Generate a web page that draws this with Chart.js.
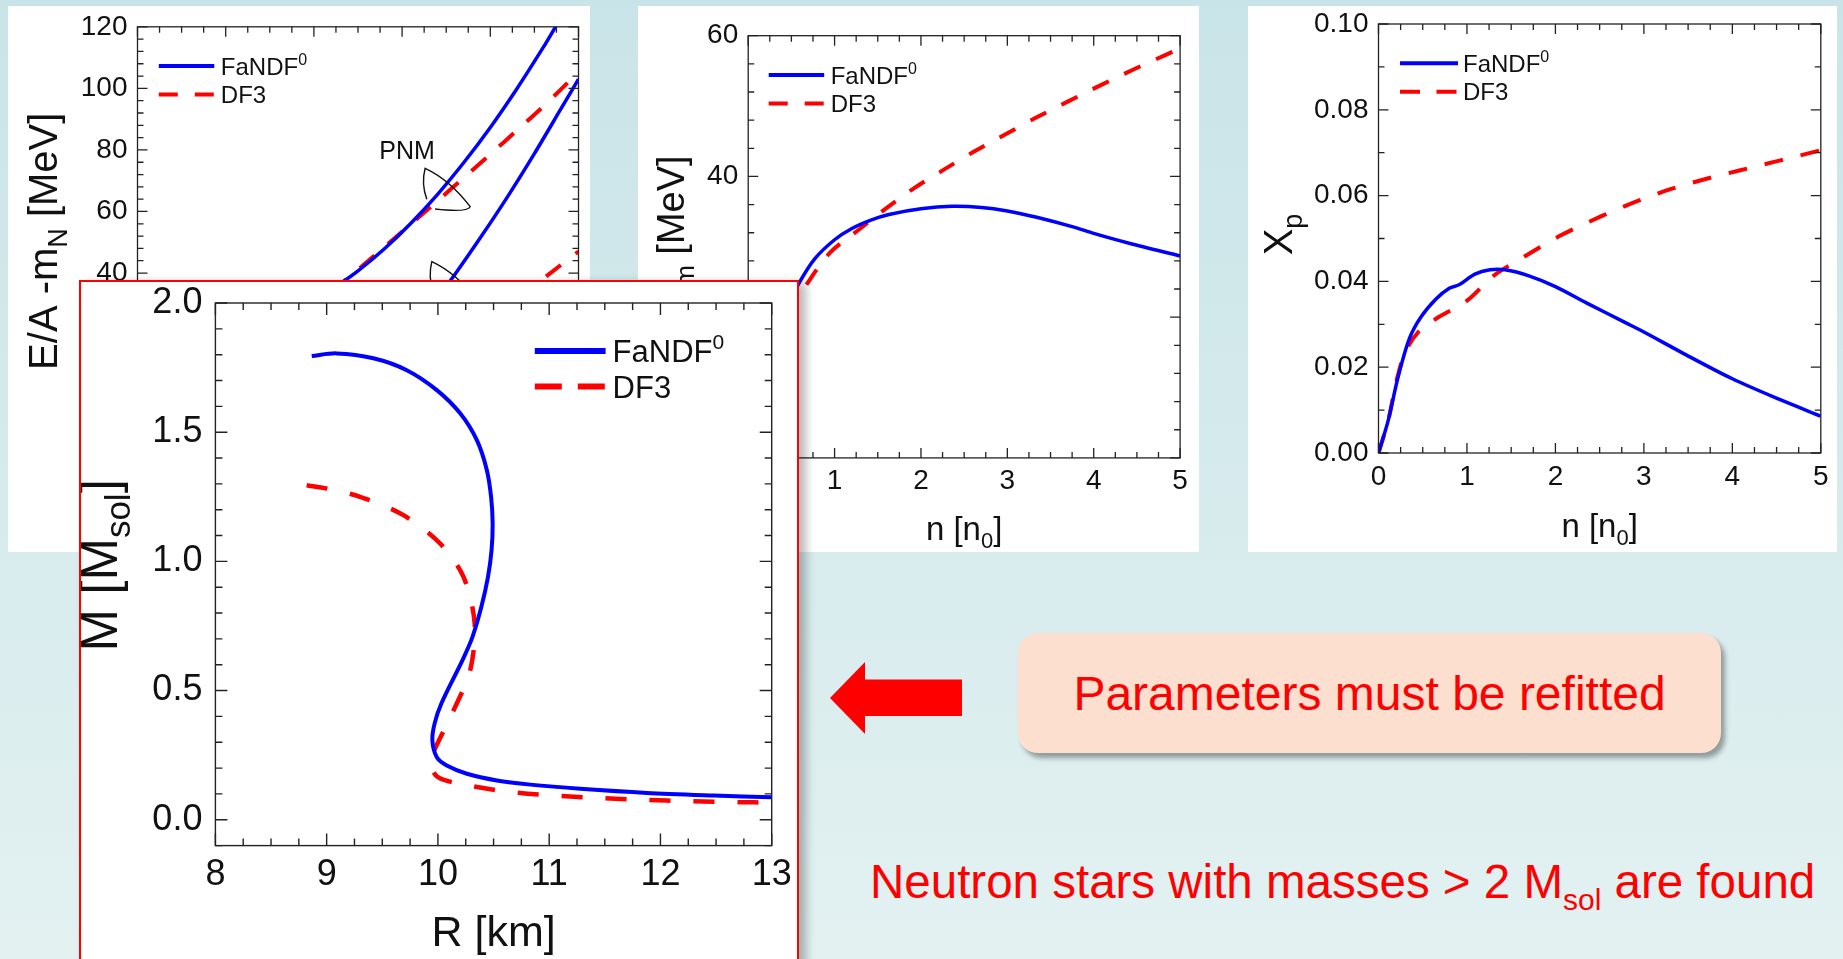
<!DOCTYPE html>
<html lang="en">
<head>
<meta charset="utf-8">
<title>FaNDF0 vs DF3</title>
<script src="https://cdn.jsdelivr.net/npm/chart.js@4.4.1/dist/chart.umd.min.js"></script>
<style>
html, body { margin: 0; padding: 0; }
body {
  width: 1843px; height: 959px; overflow: hidden; position: relative;
  background: linear-gradient(to bottom, #c9e4e8 0%, #e3f1f1 100%);
  font-family: "Liberation Sans", Arial, sans-serif;
}
.panel { position: absolute; background: #fff; }
.panel canvas { position: absolute; left: 0; top: 0; }
#p1 { left: 8px; top: 6px; width: 582px; height: 546px; }
#p2 { left: 638px; top: 6px; width: 561px; height: 546px; }
#p3 { left: 1248px; top: 6px; width: 589px; height: 546px; }
#p4 {
  left: 79px; top: 280px; width: 720px; height: 700px;
  border: 2px solid #ff0000; box-sizing: border-box;
  box-shadow: 7px 3px 9px rgba(0, 0, 0, 0.28);
}
#arrow {
  position: absolute; left: 830px; top: 662px; width: 132px; height: 72px;
  background: #ff0000;
  clip-path: polygon(0 36px, 35px 0, 35px 17.5px, 132px 17.5px, 132px 54px, 35px 54px, 35px 72px);
}
#refit {
  position: absolute; left: 1018px; top: 633px; width: 703px; height: 120px;
  background: #fddfcf; border-radius: 20px;
  box-shadow: 4px 5px 5px rgba(0, 0, 0, 0.35);
  color: #ff0000; font-size: 48px;
  display: flex; align-items: center; justify-content: center;
}
#found {
  position: absolute; left: 870px; top: 854px;
  color: #ff0000; font-size: 47.5px; line-height: 55px; white-space: nowrap;
}
#found .sub { font-size: 30px; position: relative; top: 12px; }
</style>
</head>
<body>

<div class="panel" id="p1"><canvas id="eaChart" width="582" height="546"></canvas></div>
<div class="panel" id="p2"><canvas id="esymChart" width="561" height="546"></canvas></div>
<div class="panel" id="p3"><canvas id="xpChart" width="589" height="546"></canvas></div>
<div class="panel" id="p4"><canvas id="mrChart" width="716" height="677"></canvas></div>

<div id="arrow"></div>
<div id="refit">Parameters must be refitted</div>
<div id="found">Neutron stars with masses &gt; 2 M<span class="sub">sol</span> are found</div>

<script>
// E/A - m_N [MeV] vs n [n0], pure neutron matter (upper pair) and symmetric matter
const eaPnmFaN_n = [2.2, 2.5, 2.8, 3.1, 3.4, 3.7, 4.0, 4.3, 4.6, 4.74];
const eaPnmFaN_E = [34.5, 40.7, 47.9, 56.2, 65.5, 75.9, 87.3, 99.8, 113.3, 120];
const eaPnmDF3_n = [2.2, 2.5, 2.8, 3.1, 3.4, 3.7, 4.0, 4.3, 4.6, 5.0];
const eaPnmDF3_E = [34, 41.1, 48.5, 55.9, 63.4, 71.0, 78.6, 86.3, 94.1, 105.3];
const eaSnmFaN_n = [3.3, 3.6, 3.9, 4.2, 4.5, 4.8, 5.0];
const eaSnmFaN_E = [28, 39.6, 52.0, 65.0, 78.8, 93.3, 103];
const eaSnmDF3_n = [4.3, 4.7, 5.0];
const eaSnmDF3_E = [31.5, 40.4, 47];

// symmetry energy [MeV] vs n [n0]
const esymFaN_n = [0.45, 0.6, 0.77, 1.0, 1.2, 1.42, 1.63, 2.0, 2.36, 2.7, 3.0, 3.34, 3.77, 4.0, 4.41, 5.0];
const esymFaN_E = [21.5, 25.1, 28.3, 31.0, 32.6, 33.8, 34.6, 35.4, 35.75, 35.6, 35.1, 34.2, 32.8, 31.9, 30.5, 28.7];
const esymDF3_n = [0.45, 0.65, 0.95, 1.31, 1.6, 1.93, 2.27, 2.61, 2.98, 3.34, 3.71, 4.07, 4.46, 4.84, 5.0];
const esymDF3_E = [20.5, 24.2, 29.2, 32.7, 35.5, 38.4, 41.0, 43.5, 46.0, 48.4, 50.7, 52.9, 55.2, 57.3, 58.2];

// proton fraction vs n [n0]
const xpFaN_n = [0, 0.11, 0.22, 0.35, 0.48, 0.65, 0.80, 0.91, 1.09, 1.26, 1.43, 1.70, 2.0, 2.35, 2.78, 3.0, 3.43, 4.0, 4.52, 5.0];
const xpFaN = [0, 0.0076, 0.0176, 0.0267, 0.0317, 0.0359, 0.0384, 0.0392, 0.0417, 0.0427, 0.0427, 0.0413, 0.0388, 0.0350, 0.0305, 0.0282, 0.0234, 0.0173, 0.0126, 0.0086];
const xpDF3_n = [0, 0.11, 0.2, 0.3, 0.45, 0.65, 1.0, 1.30, 1.65, 2.04, 2.52, 2.91, 3.30, 3.74, 4.09, 4.52, 4.87, 5.0];
const xpDF3 = [0, 0.0076, 0.0165, 0.0234, 0.0282, 0.0313, 0.0355, 0.0413, 0.0458, 0.0505, 0.0552, 0.0586, 0.0615, 0.0641, 0.0659, 0.0681, 0.0699, 0.0706];

// mass-radius relation, from the heaviest star down to the light end
const mrFaN_R = [8.866, 9.09, 9.42, 9.72, 9.99, 10.20, 10.35, 10.44, 10.478, 10.492, 10.482, 10.45, 10.39, 10.31, 10.22, 10.03, 9.97, 9.95, 9.99, 10.08, 10.26, 10.53, 10.83, 11.28, 11.88, 12.48, 13.0];
const mrFaN_M = [1.795, 1.805, 1.786, 1.740, 1.663, 1.573, 1.469, 1.353, 1.249, 1.146, 1.043, 0.940, 0.823, 0.707, 0.617, 0.449, 0.372, 0.307, 0.242, 0.210, 0.178, 0.152, 0.136, 0.120, 0.104, 0.094, 0.087];
const mrDF3_R = [8.82, 9.0, 9.3, 9.69, 10.02, 10.23, 10.33, 10.29, 10.14, 9.96, 9.93, 10.0, 10.2, 10.6, 11.02, 11.43, 11.85, 12.27, 12.69, 13.0];
const mrDF3_M = [1.295, 1.282, 1.250, 1.179, 1.069, 0.940, 0.760, 0.578, 0.423, 0.262, 0.215, 0.165, 0.139, 0.110, 0.094, 0.085, 0.077, 0.072, 0.068, 0.067];

const keyLabels = [[['FaNDF', ''], ['0', 'sup']], [['DF3', '']]];

const FONT = '"Liberation Sans", Arial, sans-serif';
const INK = '#111';
const BLUE = '#0000ff';
const RED = '#ff0000';

const pts = (xs, ys) => xs.map((v, i) => ({ x: v, y: ys[i] }));

function onStep(v, step) {
    const q = v / step;
    return Math.abs(q - Math.round(q)) < 1e-6;
}

function blueLine(label, data, width) {
    return { label, data, showLine: true, borderColor: BLUE, backgroundColor: BLUE,
             borderWidth: width, pointRadius: 0, tension: 0.3 };
}

function redLine(label, data, width, dash) {
    return { label, data, showLine: true, borderColor: RED, backgroundColor: RED,
             borderWidth: width, borderDash: dash, pointRadius: 0, tension: 0.3 };
}

// text with sub/superscript pieces, alphabetic baseline at y
function drawPieces(ctx, pieces, size, x, y, align) {
    const fontFor = k => (k ? Math.round(size * 0.68) : size) + 'px ' + FONT;
    let total = 0;
    const widths = pieces.map(([t, k]) => {
        ctx.font = fontFor(k);
        const w = ctx.measureText(t).width;
        total += w;
        return w;
    });
    let cx = align === 'center' ? x - total / 2 : x;
    ctx.textAlign = 'left';
    ctx.textBaseline = 'alphabetic';
    pieces.forEach(([t, k], i) => {
        ctx.font = fontFor(k);
        const dy = k === 'sub' ? size * 0.25 : k === 'sup' ? -size * 0.42 : 0;
        ctx.fillText(t, cx, y + dy);
        cx += widths[i];
    });
}

// box round the plot with inward ticks on all four sides
const frameTicks = {
    id: 'frameTicks',
    afterDatasetsDraw(chart, args, o) {
        const { ctx, chartArea: a } = chart;
        const { x, y } = chart.scales;
        ctx.save();
        ctx.strokeStyle = '#222';
        ctx.lineWidth = o.lineWidth;
        ctx.beginPath();
        x.ticks.forEach(t => {
            const p = x.getPixelForValue(t.value);
            const len = onStep(t.value, o.xMajor) ? o.major : o.minor;
            ctx.moveTo(p, a.bottom); ctx.lineTo(p, a.bottom - len);
            ctx.moveTo(p, a.top); ctx.lineTo(p, a.top + len);
        });
        y.ticks.forEach(t => {
            const p = y.getPixelForValue(t.value);
            const len = onStep(t.value, o.yMajor) ? o.major : o.minor;
            ctx.moveTo(a.left, p); ctx.lineTo(a.left + len, p);
            ctx.moveTo(a.right, p); ctx.lineTo(a.right - len, p);
        });
        ctx.stroke();
        ctx.strokeRect(a.left, a.top, a.right - a.left, a.bottom - a.top);
        ctx.restore();
    }
};

const axisTitles = {
    id: 'axisTitles',
    afterDraw(chart, args, o) {
        const { ctx, chartArea: a } = chart;
        ctx.save();
        ctx.fillStyle = INK;
        if (o.x) {
            drawPieces(ctx, o.x.text, o.x.size, (a.left + a.right) / 2, a.bottom + o.x.offset, 'center');
        }
        if (o.y) {
            ctx.save();
            ctx.translate(a.left + o.y.offset, (a.top + a.bottom) / 2 + (o.y.shift || 0));
            ctx.rotate(-Math.PI / 2);
            drawPieces(ctx, o.y.text, o.y.size, 0, 0, 'center');
            ctx.restore();
        }
        ctx.restore();
    }
};

const lineKey = {
    id: 'lineKey',
    afterDraw(chart, args, o) {
        const { ctx, chartArea: a } = chart;
        keyLabels.forEach((label, i) => {
            const ds = chart.data.datasets[i];
            const y = a.top + o.top + i * o.row;
            const x0 = a.left + o.left;
            ctx.save();
            ctx.strokeStyle = ds.borderColor;
            ctx.lineWidth = o.width;
            ctx.setLineDash(ds.borderDash ? o.dash : []);
            ctx.beginPath();
            ctx.moveTo(x0, y);
            ctx.lineTo(x0 + o.length, y);
            ctx.stroke();
            ctx.setLineDash([]);
            ctx.fillStyle = INK;
            drawPieces(ctx, label, o.size, x0 + o.length + o.gap, y + o.size * 0.36, 'left');
            ctx.restore();
        });
    }
};

// "PNM" callout with its two loop pointers
const pnmNote = {
    id: 'pnmNote',
    afterDatasetsDraw(chart, args, o) {
        const { ctx } = chart;
        const { x, y } = chart.scales;
        ctx.save();
        ctx.fillStyle = INK;
        ctx.font = o.size + 'px ' + FONT;
        ctx.textAlign = 'center';
        ctx.textBaseline = 'middle';
        ctx.fillText(o.text, x.getPixelForValue(o.at[0]), y.getPixelForValue(o.at[1]));
        ctx.strokeStyle = INK;
        ctx.lineWidth = 1.4;
        o.loops.forEach(loop => {
            const [A, B, C, D] = loop.map(([n, e]) => [x.getPixelForValue(n), y.getPixelForValue(e)]);
            ctx.beginPath();
            ctx.moveTo(A[0], A[1]);
            ctx.quadraticCurveTo(B[0] - 4, (A[1] + B[1]) / 2, B[0], B[1]);
            ctx.quadraticCurveTo(B[0] + (C[0] - B[0]) * 0.55, B[1] + (C[1] - B[1]) * 0.3, C[0], C[1]);
            ctx.quadraticCurveTo(C[0] - 3, C[1] + 6, D[0], D[1]);
            ctx.stroke();
        });
        ctx.restore();
    }
};

function axis(spec, fit) {
    return {
        type: 'linear',
        min: spec.min,
        max: spec.max,
        afterFit: fit,
        grid: { display: false, drawTicks: false },
        border: { display: false },
        ticks: {
            stepSize: spec.step,
            autoSkip: false,
            maxRotation: 0,
            padding: spec.pad,
            color: INK,
            font: { family: FONT, size: spec.size },
            callback: v => onStep(v, spec.every) ? (Math.abs(v) < 1e-9 ? 0 : v).toFixed(spec.digits) : ''
        }
    };
}

function panelChart(canvasId, cfg) {
    return new Chart(document.getElementById(canvasId), {
        type: 'scatter',
        data: { datasets: cfg.datasets },
        options: {
            responsive: false,
            animation: false,
            devicePixelRatio: 1,
            events: [],
            layout: { padding: { left: 0, bottom: 0, top: cfg.area.top, right: cfg.area.right } },
            plugins: {
                legend: { display: false },
                tooltip: { enabled: false },
                frameTicks: Object.assign({ xMajor: cfg.x.every, yMajor: cfg.y.every }, cfg.frame),
                axisTitles: cfg.titles,
                lineKey: cfg.key,
                pnmNote: cfg.note || false
            },
            scales: {
                // fixed axis boxes; label overhang is left to the canvas margin
                x: axis(cfg.x, s => { s.height = cfg.area.xHeight; s.paddingLeft = 0; s.paddingRight = 0; }),
                y: axis(cfg.y, s => { s.width = cfg.area.yWidth; s.paddingTop = 0; s.paddingBottom = 0; })
            }
        },
        plugins: [frameTicks, axisTitles, lineKey, pnmNote]
    });
}

const nAxis = { min: 0, max: 5, step: 0.25, every: 1, digits: 0, size: 28, pad: 7 };
const nTitle = { text: [['n [n', ''], ['0', 'sub'], [']', '']], size: 33, offset: 83 };
const smallFrame = { major: 10, minor: 6, lineWidth: 1.3 };
const smallKey = { row: 28.6, length: 55.5, gap: 6.5, size: 24, width: 4, dash: [19, 17] };

panelChart('eaChart', {
    datasets: [
        blueLine('FaNDF0', pts(eaPnmFaN_n, eaPnmFaN_E), 3.5),
        redLine('DF3', pts(eaPnmDF3_n, eaPnmDF3_E), 4, [19, 18]),
        blueLine('FaNDF0 SNM', pts(eaSnmFaN_n, eaSnmFaN_E), 3.5),
        redLine('DF3 SNM', pts(eaSnmDF3_n, eaSnmDF3_E), 4, [19, 18])
    ],
    area: { top: 20.8, right: 11.5, xHeight: 94.3, yWidth: 129.5 },
    x: nAxis,
    y: { min: -20, max: 120, step: 4, every: 20, digits: 0, size: 28, pad: 10 },
    frame: smallFrame,
    titles: {
        x: nTitle,
        y: { text: [['E/A -m', ''], ['N', 'sub'], [' [MeV]', '']], size: 40, offset: -81, shift: -1 }
    },
    key: Object.assign({}, smallKey, { left: 21.3, top: 39.2 }),
    note: {
        text: 'PNM', size: 25, at: [3.057, 79.2],
        loops: [
            [[3.280, 63.96], [3.261, 74.03], [3.772, 61.55], [3.374, 60.8]],
            [[3.356, 33.6], [3.337, 43.7], [3.848, 31.2], [3.450, 30.5]]
        ]
    }
});

panelChart('esymChart', {
    datasets: [
        blueLine('FaNDF0', pts(esymFaN_n, esymFaN_E), 3.5),
        redLine('DF3', pts(esymDF3_n, esymDF3_E), 4, [18, 17])
    ],
    area: { top: 29.7, right: 18.9, xHeight: 94.1, yWidth: 110.2 },
    x: nAxis,
    y: { min: 0, max: 60, step: 4, every: 20, digits: 0, size: 28, pad: 10 },
    frame: smallFrame,
    titles: {
        x: Object.assign({}, nTitle, { offset: 82 }),
        y: { text: [['E', ''], ['sym', 'sub'], [' [MeV]', '']], size: 38, offset: -64 }
    },
    key: Object.assign({}, smallKey, { left: 20.5, top: 39.3 })
});

panelChart('xpChart', {
    datasets: [
        blueLine('FaNDF0', pts(xpFaN_n, xpFaN), 3.5),
        redLine('DF3', pts(xpDF3_n, xpDF3), 4, [19, 18])
    ],
    area: { top: 18, right: 16.2, xHeight: 99, yWidth: 130.5 },
    x: nAxis,
    y: { min: 0, max: 0.1, step: 0.01, every: 0.02, digits: 2, size: 28, pad: 10 },
    frame: smallFrame,
    titles: {
        x: Object.assign({}, nTitle, { offset: 84 }),
        y: { text: [['X', ''], ['p', 'sub']], size: 40, offset: -87, shift: -4 }
    },
    key: Object.assign({}, smallKey, { left: 21.5, top: 39.3, row: 28.4, length: 58, gap: 5, dash: [20, 16.5] })
});

panelChart('mrChart', {
    datasets: [
        blueLine('FaNDF0', pts(mrFaN_R, mrFaN_M), 4),
        redLine('DF3', pts(mrDF3_R, mrDF3_M), 4.5, [21, 23])
    ],
    area: { top: 21, right: 25.3, xHeight: 113.4, yWidth: 134.4 },
    x: { min: 8, max: 13, step: 0.25, every: 1, digits: 0, size: 36, pad: 8 },
    y: { min: -0.1, max: 2.0, step: 0.1, every: 0.5, digits: 1, size: 36, pad: 13 },
    frame: { major: 12, minor: 7, lineWidth: 1.4 },
    titles: {
        x: { text: [['R [km]', '']], size: 43, offset: 100 },
        y: { text: [['M [M', ''], ['sol', 'sub'], [']', '']], size: 51, offset: -98, shift: -9 }
    },
    key: { left: 319.4, top: 48, row: 35.4, length: 70.8, gap: 7, size: 31, width: 6, dash: [27, 16] }
});
</script>
</body>
</html>
